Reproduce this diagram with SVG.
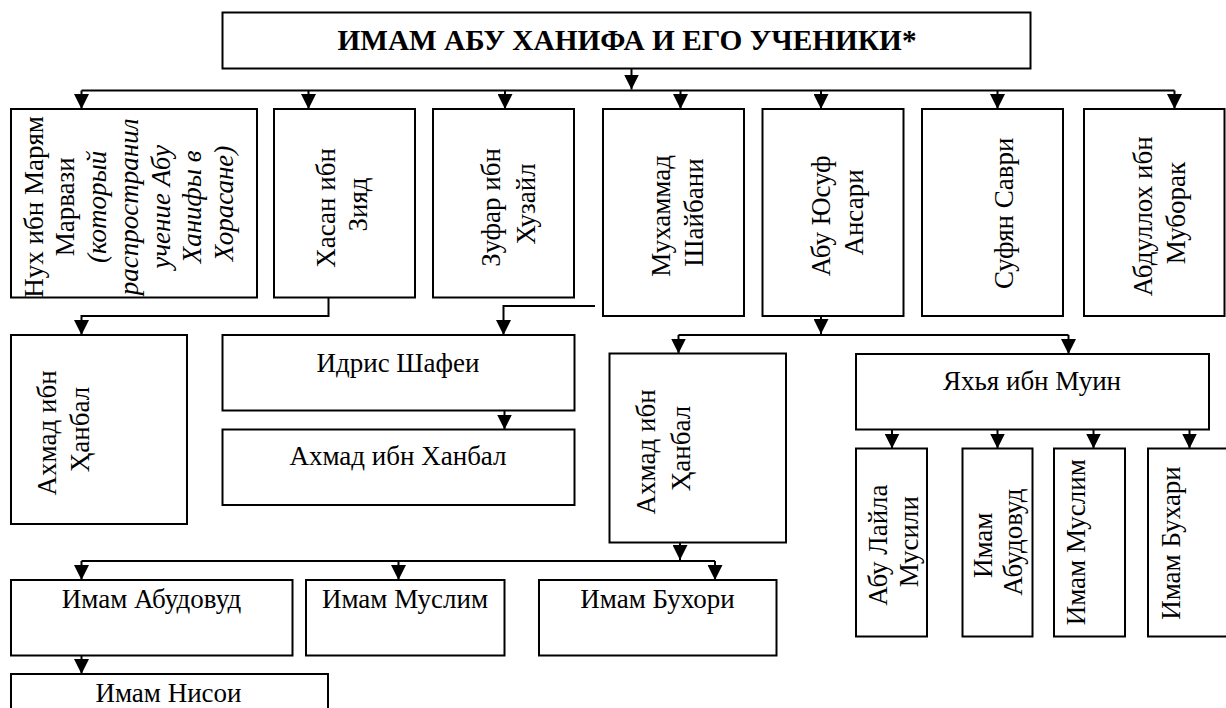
<svg xmlns="http://www.w3.org/2000/svg" width="1226" height="708" viewBox="0 0 1226 708" font-family="Liberation Serif, Tinos, DejaVu Serif, serif">
<style>
.b{fill:#fff;stroke:#000;stroke-width:2}
.t{font-size:27px;fill:#000;text-anchor:middle}
.h{font-weight:bold;font-size:29.3px}
.i{font-style:italic}
.c{fill:none;stroke:#000;stroke-width:2}
.a{marker-end:url(#ah)}
</style>
<defs>
<marker id="ah" viewBox="0 0 15 15" refX="15" refY="7.5" markerWidth="15" markerHeight="15" markerUnits="userSpaceOnUse" orient="auto">
<path d="M0,0 L15,7.5 L0,15 z" fill="#000"/>
</marker>
</defs>
<rect width="1226" height="708" fill="#fff"/>

<g id="connectors">
<path class="c a" d="M631.5,68.5 V89.5"/>
<path class="c" d="M81.5,90.5 H1174.5"/>
<path class="c a" d="M81.5,90.5 V109"/>
<path class="c a" d="M308.5,90.5 V109"/>
<path class="c a" d="M505,90.5 V109"/>
<path class="c a" d="M680.5,90.5 V109"/>
<path class="c a" d="M821,90.5 V109"/>
<path class="c a" d="M997.5,90.5 V109"/>
<path class="c a" d="M1174.5,90.5 V109"/>
<path class="c a" d="M328.5,297.5 V316 H81.5 V335"/>
<path class="c a" d="M595,306 H503.5 V335"/>
<path class="c a" d="M504.5,410.5 V429.5"/>
<path class="c a" d="M821,316 V334"/>
<path class="c" d="M678.5,335 H1068.5"/>
<path class="c a" d="M678.5,335 V353.5"/>
<path class="c a" d="M1068.5,335 V354"/>
<path class="c a" d="M680,542.5 V560"/>
<path class="c" d="M81.5,561 H715"/>
<path class="c a" d="M81.5,561 V580"/>
<path class="c a" d="M398.5,561 V580"/>
<path class="c a" d="M715,561 V580"/>
<path class="c a" d="M81.5,655.5 V674"/>
<path class="c a" d="M892,429.5 V448.5"/>
<path class="c a" d="M997.5,429.5 V448.5"/>
<path class="c a" d="M1093.5,429.5 V448.5"/>
<path class="c a" d="M1189.5,429.5 V448.5"/>
</g>

<g id="title">
<rect class="b" x="222.5" y="12.5" width="808" height="56"/>
<text class="t h" x="627" y="50">ИМАМ АБУ ХАНИФА И ЕГО УЧЕНИКИ*</text>
</g>

<g id="nuh">
<rect class="b" x="11" y="109" width="246" height="188.5"/>
<text class="t" transform="rotate(-90)">
<tspan x="-203.5" y="42.7">Нух ибн Марям</tspan>
<tspan x="-203.5" y="74.4">Марвази</tspan>
<tspan class="i" x="-203.5" y="106">(который</tspan>
<tspan class="i" x="-203.5" y="137.8">распространил</tspan>
<tspan class="i" x="-203.5" y="169.5">учение Абу</tspan>
<tspan class="i" x="-203.5" y="201.2">Ханифы в</tspan>
<tspan class="i" x="-203.5" y="233">Хорасане)</tspan>
</text>
</g>

<g id="hasan">
<rect class="b" x="274" y="109" width="141" height="188.5"/>
<text class="t" transform="rotate(-90)">
<tspan x="-204.5" y="335">Хасан ибн</tspan>
<tspan x="-204.5" y="366.7">Зияд</tspan>
</text>
</g>

<g id="zufar">
<rect class="b" x="433" y="109" width="141" height="188.5"/>
<text class="t" transform="rotate(-90)">
<tspan x="-204" y="500">Зуфар ибн</tspan>
<tspan x="-204" y="535">Хузайл</tspan>
</text>
</g>

<g id="muhammad">
<rect class="b" x="603" y="109" width="141" height="207"/>
<text class="t" transform="rotate(-90)">
<tspan x="-212.5" y="670">Мухаммад</tspan>
<tspan x="-212.5" y="703.3">Шайбани</tspan>
</text>
</g>

<g id="abuyusuf">
<rect class="b" x="762.5" y="109" width="141" height="207"/>
<text class="t" transform="rotate(-90)">
<tspan x="-212.5" y="830">Абу Юсуф</tspan>
<tspan x="-212.5" y="863">Ансари</tspan>
</text>
</g>

<g id="sufyan">
<rect class="b" x="922" y="109" width="141" height="207"/>
<text class="t" transform="rotate(-90)" x="-213.3" y="1013.3">Суфян Саври</text>
</g>

<g id="abdulloh">
<rect class="b" x="1084" y="109" width="140.5" height="207"/>
<text class="t" transform="rotate(-90)">
<tspan x="-213" y="1151.7">Абдуллох ибн</tspan>
<tspan x="-213" y="1185">Муборак</tspan>
</text>
</g>

<g id="ahmad1">
<rect class="b" x="11" y="335" width="176" height="189"/>
<text class="t" transform="rotate(-90)">
<tspan x="-429.5" y="56">Ахмад ибн</tspan>
<tspan x="-429.5" y="89">Ҳанбал</tspan>
</text>
</g>

<g id="idris">
<rect class="b" x="222.5" y="335" width="352" height="75.5"/>
<text class="t" x="398" y="372">Идрис Шафеи</text>
</g>

<g id="ahmad2">
<rect class="b" x="222.5" y="429.5" width="352" height="75.5"/>
<text class="t" x="398" y="465">Ахмад ибн Ханбал</text>
</g>

<g id="ahmad3">
<rect class="b" x="609.5" y="353.5" width="176.5" height="189"/>
<text class="t" transform="rotate(-90)">
<tspan x="-448.5" y="655">Ахмад ибн</tspan>
<tspan x="-448.5" y="690">Ҳанбал</tspan>
</text>
</g>

<g id="yahya">
<rect class="b" x="856" y="354" width="353" height="75.5"/>
<text class="t" x="1032" y="390">Яхья ибн Муин</text>
</g>

<g id="abulayla">
<rect class="b" x="856" y="448.5" width="71" height="188"/>
<text class="t" transform="rotate(-90)">
<tspan x="-541.7" y="887.3">Абу Лайла</tspan>
<tspan x="-541.7" y="918.3">Мусили</tspan>
</text>
</g>

<g id="abudovud2">
<rect class="b" x="962.5" y="448.5" width="70" height="188"/>
<text class="t" transform="rotate(-90)">
<tspan x="-542" y="991.7">Имам</tspan>
<tspan x="-542" y="1022">Абудовуд</tspan>
</text>
</g>

<g id="muslim2">
<rect class="b" x="1054" y="448.5" width="71" height="188"/>
<text class="t" transform="rotate(-90)" x="-542.3" y="1085">Имам Муслим</text>
</g>

<g id="buhari2">
<rect class="b" x="1148" y="448.5" width="90" height="188"/>
<text class="t" transform="rotate(-90)" x="-543" y="1180">Имам Бухари</text>
</g>

<g id="abudovud">
<rect class="b" x="11" y="580" width="281.5" height="75.5"/>
<text class="t" x="151.5" y="608.3">Имам Абудовуд</text>
</g>

<g id="muslim">
<rect class="b" x="306" y="580" width="198.5" height="75.5"/>
<text class="t" x="405" y="608.3">Имам Муслим</text>
</g>

<g id="buhori">
<rect class="b" x="539" y="580" width="237.5" height="75.5"/>
<text class="t" x="657.5" y="608.3">Имам Бухори</text>
</g>

<g id="nisoi">
<rect class="b" x="11" y="674" width="317" height="60"/>
<text class="t" x="168.5" y="701.7">Имам Нисои</text>
</g>
</svg>
